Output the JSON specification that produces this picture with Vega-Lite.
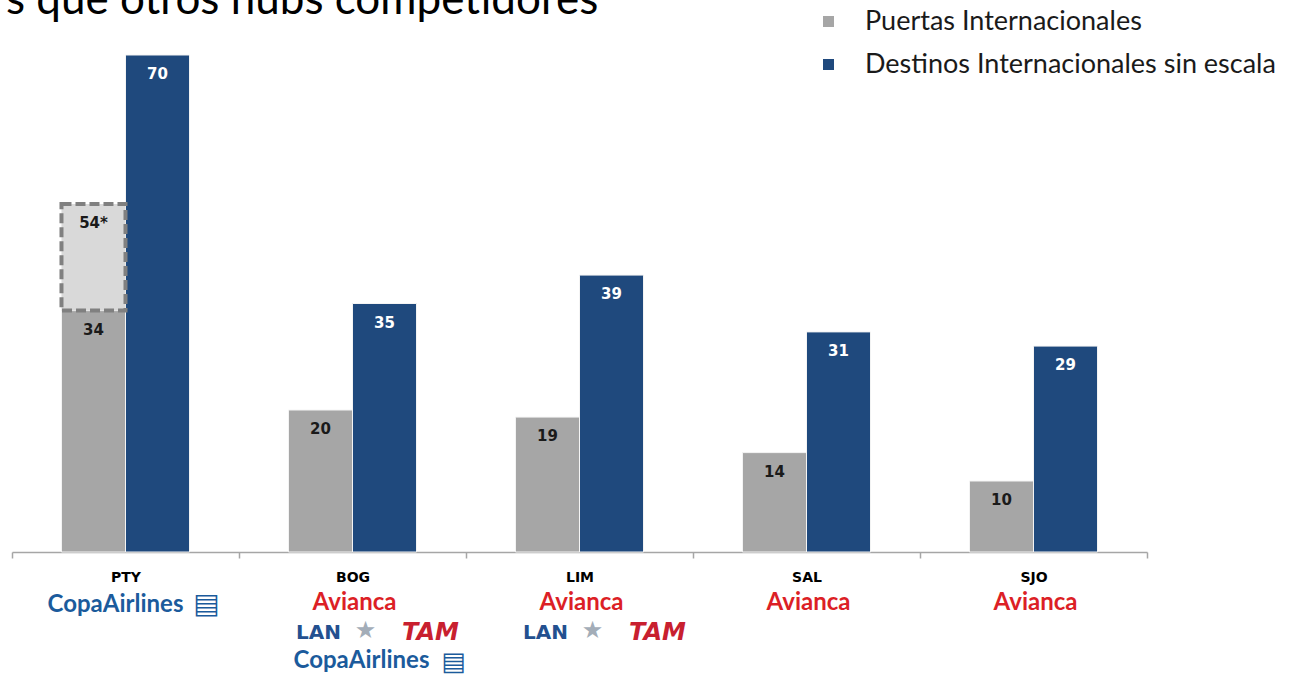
{
  "$schema": "https://vega.github.io/schema/vega-lite/v6.json",
  "autosize": {"type": "none"},
  "width": 1135,
  "height": 497,
  "padding": {"left": 12, "top": 55, "right": 145, "bottom": 124},
  "background": "#ffffff",
  "title": {
    "text": "s que otros hubs competidores",
    "anchor": "start",
    "frame": "group",
    "font": "Lato",
    "fontSize": 44,
    "fontWeight": "normal",
    "color": "#000000",
    "baseline": "alphabetic",
    "offset": 0,
    "dx": -6,
    "dy": 50
  },
  "datasets": {
    "barras": [
      {"hub": "PTY", "serie": "Puertas Internacionales", "valor": 34},
      {"hub": "PTY", "serie": "Destinos Internacionales sin escala", "valor": 70},
      {"hub": "BOG", "serie": "Puertas Internacionales", "valor": 20},
      {"hub": "BOG", "serie": "Destinos Internacionales sin escala", "valor": 35},
      {"hub": "LIM", "serie": "Puertas Internacionales", "valor": 19},
      {"hub": "LIM", "serie": "Destinos Internacionales sin escala", "valor": 39},
      {"hub": "SAL", "serie": "Puertas Internacionales", "valor": 14},
      {"hub": "SAL", "serie": "Destinos Internacionales sin escala", "valor": 31},
      {"hub": "SJO", "serie": "Puertas Internacionales", "valor": 10},
      {"hub": "SJO", "serie": "Destinos Internacionales sin escala", "valor": 29}
    ],
    "ampliacion": [
      {"hub": "PTY", "serie": "Puertas Internacionales", "desde": 34, "hasta": 49, "etiqueta": "54*"}
    ],
    "aerolineas": [
      {"hub": "PTY", "marca": "CopaAirlines", "fila": 1},
      {"hub": "BOG", "marca": "Avianca", "fila": 1},
      {"hub": "BOG", "marca": "LAN", "fila": 2},
      {"hub": "BOG", "marca": "TAM", "fila": 2},
      {"hub": "BOG", "marca": "CopaAirlines", "fila": 3},
      {"hub": "LIM", "marca": "Avianca", "fila": 1},
      {"hub": "LIM", "marca": "LAN", "fila": 2},
      {"hub": "LIM", "marca": "TAM", "fila": 2},
      {"hub": "SAL", "marca": "Avianca", "fila": 1},
      {"hub": "SJO", "marca": "Avianca", "fila": 1}
    ]
  },
  "encoding": {
    "x": {
      "field": "hub",
      "type": "nominal",
      "sort": ["PTY", "BOG", "LIM", "SAL", "SJO"],
      "scale": {"paddingInner": 0, "paddingOuter": 0},
      "axis": {
        "title": null,
        "labelAngle": 0,
        "labelFont": "DejaVu Sans",
        "labelFontWeight": "bold",
        "labelFontSize": 14,
        "labelColor": "#000000",
        "labelPadding": 12,
        "domainColor": "#a6a6a6",
        "domainWidth": 1.5,
        "tickColor": "#a6a6a6",
        "tickWidth": 1.5,
        "tickSize": 6,
        "tickBand": "extent"
      }
    }
  },
  "layer": [
    {
      "data": {"name": "barras"},
      "mark": {"type": "bar", "stroke": "#f4f4f4", "strokeWidth": 1},
      "encoding": {
        "xOffset": {"field": "serie", "type": "nominal", "scale": {"domain": ["Puertas Internacionales", "Destinos Internacionales sin escala"], "paddingInner": 0, "paddingOuter": 0.773}},
        "y": {"field": "valor", "type": "quantitative", "scale": {"domain": [0, 70], "nice": false}, "axis": null},
        "color": {
          "field": "serie",
          "type": "nominal",
          "scale": {"domain": ["Puertas Internacionales", "Destinos Internacionales sin escala"], "range": ["#a6a6a6", "#1f497d"]},
          "legend": {
            "title": null,
            "orient": "none",
            "legendX": 803,
            "legendY": -47,
            "symbolType": "square",
            "symbolSize": 121,
            "symbolStrokeWidth": 0,
            "labelFont": "Lato",
            "labelFontSize": 27,
            "labelColor": "#1a1a1a",
            "labelOffset": 23,
            "labelLimit": 500,
            "rowPadding": 15,
            "padding": 0
          }
        }
      }
    },
    {
      "data": {"name": "ampliacion"},
      "mark": {"type": "bar", "fill": "#d9d9d9", "stroke": "#808080", "strokeWidth": 4, "strokeDash": [10, 4]},
      "encoding": {
        "xOffset": {"field": "serie", "type": "nominal"},
        "y": {"field": "desde", "type": "quantitative", "axis": null},
        "y2": {"field": "hasta"}
      }
    },
    {
      "data": {"name": "ampliacion"},
      "mark": {"type": "text", "font": "DejaVu Sans", "fontWeight": "bold", "fontSize": 15, "color": "#1a1a1a", "baseline": "middle", "dy": 19},
      "encoding": {
        "xOffset": {"field": "serie", "type": "nominal"},
        "y": {"field": "hasta", "type": "quantitative", "axis": null},
        "text": {"field": "etiqueta"}
      }
    },
    {
      "data": {"name": "barras"},
      "transform": [{"filter": "datum.serie === 'Puertas Internacionales'"}],
      "mark": {"type": "text", "font": "DejaVu Sans", "fontWeight": "bold", "fontSize": 15, "color": "#1a1a1a", "baseline": "middle", "dy": 19},
      "encoding": {
        "xOffset": {"field": "serie", "type": "nominal"},
        "y": {"field": "valor", "type": "quantitative", "axis": null},
        "text": {"field": "valor"}
      }
    },
    {
      "data": {"name": "barras"},
      "transform": [{"filter": "datum.serie !== 'Puertas Internacionales'"}],
      "mark": {"type": "text", "font": "DejaVu Sans", "fontWeight": "bold", "fontSize": 15, "color": "#ffffff", "baseline": "middle", "dy": 19},
      "encoding": {
        "xOffset": {"field": "serie", "type": "nominal"},
        "y": {"field": "valor", "type": "quantitative", "axis": null},
        "text": {"field": "valor"}
      }
    },
    {
      "data": {"name": "aerolineas"},
      "transform": [{"filter": "datum.marca === 'CopaAirlines' && datum.fila === 1"}],
      "mark": {"type": "text", "font": "Lato", "fontWeight": "bold", "fontSize": 24, "color": "#1b5b9c", "baseline": "middle", "dy": 53, "dx": -10},
      "encoding": {"y": {"datum": 0, "type": "quantitative", "axis": null}, "text": {"field": "marca"}}
    },
    {
      "data": {"name": "aerolineas"},
      "transform": [{"filter": "datum.marca === 'CopaAirlines' && datum.fila === 1"}],
      "mark": {"type": "text", "font": "DejaVu Sans", "fontSize": 28, "color": "#1b5b9c", "baseline": "middle", "dy": 53, "dx": 81, "text": "▤"},
      "encoding": {"y": {"datum": 0, "type": "quantitative", "axis": null}}
    },
    {
      "data": {"name": "aerolineas"},
      "transform": [{"filter": "datum.marca === 'CopaAirlines' && datum.fila === 3"}],
      "mark": {"type": "text", "font": "Lato", "fontWeight": "bold", "fontSize": 24, "color": "#1b5b9c", "baseline": "middle", "dy": 109, "dx": 9},
      "encoding": {"y": {"datum": 0, "type": "quantitative", "axis": null}, "text": {"field": "marca"}}
    },
    {
      "data": {"name": "aerolineas"},
      "transform": [{"filter": "datum.marca === 'CopaAirlines' && datum.fila === 3"}],
      "mark": {"type": "text", "font": "DejaVu Sans", "fontSize": 26, "color": "#1b5b9c", "baseline": "middle", "dy": 110, "dx": 101, "text": "▤"},
      "encoding": {"y": {"datum": 0, "type": "quantitative", "axis": null}}
    },
    {
      "data": {"name": "aerolineas"},
      "transform": [{"filter": "datum.marca === 'Avianca'"}],
      "mark": {"type": "text", "font": "Lato", "fontWeight": "bold", "fontSize": 24, "color": "#dc1f26", "baseline": "middle", "dy": 51, "dx": 2},
      "encoding": {"y": {"datum": 0, "type": "quantitative", "axis": null}, "text": {"field": "marca"}}
    },
    {
      "data": {"name": "aerolineas"},
      "transform": [{"filter": "datum.marca === 'LAN'"}],
      "mark": {"type": "text", "font": "DejaVu Sans", "fontWeight": "bold", "fontSize": 20, "color": "#23508f", "baseline": "middle", "dy": 81, "dx": -34},
      "encoding": {"y": {"datum": 0, "type": "quantitative", "axis": null}, "text": {"field": "marca"}}
    },
    {
      "data": {"name": "aerolineas"},
      "transform": [{"filter": "datum.marca === 'LAN'"}],
      "mark": {"type": "text", "font": "DejaVu Sans", "fontSize": 24, "color": "#a3adb8", "baseline": "middle", "dy": 79, "dx": 13, "text": "★"},
      "encoding": {"y": {"datum": 0, "type": "quantitative", "axis": null}}
    },
    {
      "data": {"name": "aerolineas"},
      "transform": [{"filter": "datum.marca === 'TAM'"}],
      "mark": {"type": "text", "font": "DejaVu Sans", "fontWeight": "bold", "fontStyle": "italic", "fontSize": 24, "color": "#c8202f", "baseline": "middle", "dy": 81, "dx": 78},
      "encoding": {"y": {"datum": 0, "type": "quantitative", "axis": null}, "text": {"field": "marca"}}
    }
  ],
  "config": {
    "view": {"stroke": null},
    "axisY": {"grid": false}
  }
}
